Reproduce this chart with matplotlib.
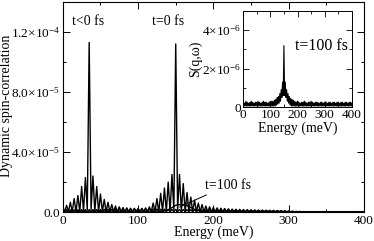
import numpy as np
import matplotlib
matplotlib.use("Agg")
import matplotlib.pyplot as plt
from matplotlib.ticker import FixedLocator, FixedFormatter, MultipleLocator

plt.rcParams['font.family'] = ['Liberation Serif', 'DejaVu Serif']
plt.rcParams['mathtext.fontset'] = 'custom'
plt.rcParams['mathtext.rm'] = 'Liberation Serif'
plt.rcParams['mathtext.it'] = 'Liberation Serif:italic'

SCALE = 1e-6  # values below are in units of 1e-6

# ---- t<0 fs curve: lobe tops at E = 0,5,...,400 ; troughs at 2.5,...,397.5
tops_tneg = [3.5, 4.5, 6.5, 9, 11, 17, 23, 113, 24, 17, 12, 8.5, 6.5, 5, 4, 3.5,
             3, 2.8, 2.6, 2.5, 2.4, 2.3, 2.2, 2.1, 2.0, 2.0, 1.9, 1.9, 1.8, 1.8,
             1.8, 1.7, 1.7, 1.7, 1.6, 1.6, 1.6, 1.5, 1.5, 1.5, 1.5, 1.4, 1.4, 1.4,
             1.4, 1.3, 1.3, 1.3, 1.3, 1.2, 1.2, 1.2, 1.2, 1.1, 1.1, 1.1, 1.0, 1.0,
             0.9, 0.8, 0.6, 0.5, 0.4, 0.4,
             0.3, 0.3, 0.3, 0.3, 0.3, 0.3, 0.3, 0.3, 0.3, 0.3, 0.3, 0.3, 0.3, 0.3,
             0.3, 0.3, 0.3]
troughs_tneg = [0.2, 0.2, 0.2, 0.2, 0.2, 0.3, 1.5, 1.5, 0.3, 0.2,
                0.2, 0.2, 0.2, 0.2, 0.2, 0.2, 0.2, 0.2, 0.2, 0.2,
                0.2, 0.2, 0.2, 0.2, 0.2, 0.2, 0.2, 0.2, 0.2, 0.2,
                0.2, 0.2, 0.2, 0.2, 0.2, 0.2, 0.2, 0.2, 0.2, 0.2,
                0.2, 0.2, 0.2, 0.2, 0.2, 0.2, 0.2, 0.2, 0.2, 0.2,
                0.2, 0.2, 0.2, 0.2, 0.2, 0.2, 0.2, 0.2, 0.2, 0.2,
                0.2, 0.2, 0.2, 0.2, 0.2, 0.2, 0.2, 0.2, 0.2, 0.2,
                0.2, 0.2, 0.2, 0.2, 0.2, 0.2, 0.2, 0.2, 0.2, 0.2]

# ---- t=0 fs curve: lobe tops at E = 0,5,...,400 ; troughs at 2.5,...,397.5
tops_t0 = [1.5, 1.5, 1.5, 1.5, 1.6, 1.6, 1.6, 1.6, 1.7, 1.7, 1.7, 1.8, 1.8, 1.8,
           1.9, 1.9, 2.0, 2.0, 2.1, 2.2, 2.3, 2.5, 2.8, 3.5, 6, 9, 12.5, 16, 20,
           25, 112, 25, 19, 13, 10, 8, 6, 5, 4, 3.5, 3, 2.8, 2.6, 2.4, 2.2, 2.0,
           1.9, 1.8, 1.7, 1.6, 1.5, 1.4, 1.3, 1.3, 1.2, 1.1, 1.1, 1.0, 0.9, 0.8,
           0.6, 0.5, 0.4, 0.35,
           0.3, 0.3, 0.3, 0.3, 0.3, 0.3, 0.3, 0.3, 0.3, 0.3, 0.3, 0.3, 0.3, 0.3,
           0.3, 0.3, 0.3]
troughs_t0 = [0.2, 0.2, 0.2, 0.2, 0.2, 0.2, 0.2, 0.2, 0.2, 0.2,
              0.2, 0.2, 0.2, 0.2, 0.2, 0.2, 0.2, 0.2, 0.2, 0.2,
              0.2, 0.2, 0.2, 0.2, 0.2, 0.2, 0.2, 0.2, 0.3, 1.5,
              1.5, 0.3, 0.2, 0.2, 0.2, 0.2, 0.2, 0.2, 0.2, 0.2,
              0.2, 0.2, 0.2, 0.2, 0.2, 0.2, 0.2, 0.2, 0.2, 0.2,
              0.2, 0.2, 0.2, 0.2, 0.2, 0.2, 0.2, 0.2, 0.2, 0.2,
              0.2, 0.2, 0.2, 0.2, 0.2, 0.2, 0.2, 0.2, 0.2, 0.2,
              0.2, 0.2, 0.2, 0.2, 0.2, 0.2, 0.2, 0.2, 0.2, 0.2]

# ---- t=100 fs curve in main panel, E = 0,5,...,400
t100_main = [0.4, 0.1, 0.4, 0.1, 0.4, 0.1, 0.4, 0.1, 0.4, 0.1, 0.4, 0.1, 0.4, 0.1,
             0.4, 0.1, 0.4, 0.1, 0.4, 0.1, 0.4, 0.1, 0.4, 0.1, 0.4, 0.1, 0.4,
             0.8, 1.5, 3, 4.5, 5, 5, 4.2, 3, 1.8, 1, 0.5,
             0.4, 0.1, 0.4, 0.1, 0.4, 0.1, 0.4, 0.1, 0.4, 0.1, 0.4, 0.1, 0.4, 0.1,
             0.4, 0.1, 0.4, 0.1, 0.4, 0.1, 0.4, 0.1, 0.3, 0.2, 0.2, 0.2, 0.2, 0.2,
             0.2, 0.2, 0.2, 0.2, 0.2, 0.2, 0.2, 0.2, 0.2, 0.2, 0.2, 0.2, 0.2, 0.2, 0.2]

# ---- inset t=100 fs: tops at E = 0,5,...,400 ; troughs at 2.5,...,397.5
tops_inset = [0.25, 0.2, 0.3, 0.25, 0.2, 0.25, 0.3, 0.25, 0.2, 0.25, 0.25, 0.3,
              0.25, 0.2, 0.25, 0.3, 0.25, 0.25, 0.2, 0.25, 0.3, 0.3, 0.3, 0.35,
              0.4, 0.5, 0.55, 0.7, 0.9, 1.3, 3.2, 1.3, 0.9, 0.7, 0.55, 0.45, 0.4,
              0.35, 0.3, 0.25, 0.3, 0.25, 0.2, 0.25, 0.25, 0.3, 0.25, 0.2, 0.25,
              0.25, 0.3, 0.25, 0.2, 0.25, 0.25, 0.25, 0.2, 0.25, 0.25, 0.2, 0.25,
              0.25, 0.2, 0.25, 0.25, 0.2, 0.25, 0.25, 0.2, 0.25, 0.25, 0.2, 0.25,
              0.25, 0.2, 0.25, 0.25, 0.2, 0.25, 0.25, 0.2]
troughs_inset = [0.05, 0.05, 0.05, 0.05, 0.05, 0.05, 0.05, 0.05, 0.05, 0.05,
                 0.05, 0.05, 0.05, 0.05, 0.05, 0.05, 0.05, 0.05, 0.05, 0.05,
                 0.05, 0.05, 0.05, 0.05, 0.1, 0.15, 0.2, 0.3, 0.5, 0.6,
                 0.6, 0.5, 0.3, 0.2, 0.1, 0.05, 0.05, 0.05, 0.05, 0.05,
                 0.05, 0.05, 0.05, 0.05, 0.05, 0.05, 0.05, 0.05, 0.05, 0.05,
                 0.05, 0.05, 0.05, 0.05, 0.05, 0.05, 0.05, 0.05, 0.05, 0.05,
                 0.05, 0.05, 0.05, 0.05, 0.05, 0.05, 0.05, 0.05, 0.05, 0.05,
                 0.05, 0.05, 0.05, 0.05, 0.05, 0.05, 0.05, 0.05, 0.05, 0.05]

main_yticks = [0, 4e-5, 8e-5, 1.2e-4]
main_yticklabels = ['0.0', '4.0×10$^{-5}$', '8.0×10$^{-5}$', '1.2×10$^{-4}$']
inset_yticks = [0, 2e-6, 4e-6]
inset_yticklabels = ['0', '2×10$^{-6}$', '4×10$^{-6}$']
xticks = [0, 100, 200, 300, 400]


def interleave(e_tops, v_tops, e_tr, v_tr):
    e = np.concatenate([e_tops, e_tr])
    v = np.concatenate([v_tops, v_tr])
    order = np.argsort(e)
    return e[order], v[order] * SCALE


E_mult5 = np.arange(0, 400.1, 5.0)
E_half = np.arange(2.5, 400.0, 5.0)

x1, y1 = interleave(E_mult5, tops_tneg, E_half, troughs_tneg)
x2, y2 = interleave(E_mult5, tops_t0, E_half, troughs_t0)
x3, y3 = E_mult5, np.array(t100_main) * SCALE
xi, yi = interleave(E_mult5, tops_inset, E_half, troughs_inset)

fig = plt.figure(figsize=(3.74, 2.41), dpi=100)
ax = fig.add_axes([0.168, 0.120, 0.805, 0.872])
lw = 1.0
ax.plot(x1, y1, color='black', lw=lw)
ax.plot(x2, y2, color='black', lw=lw)
ax.plot(x3, y3, color='black', lw=lw)
ax.set_xlim(0, 400)
ax.set_ylim(0, 1.4e-4)
ax.xaxis.set_major_locator(FixedLocator(xticks))
ax.xaxis.set_minor_locator(MultipleLocator(50))
ax.yaxis.set_major_locator(FixedLocator(main_yticks))
ax.yaxis.set_major_formatter(FixedFormatter(main_yticklabels))
ax.yaxis.set_minor_locator(MultipleLocator(2e-5))
ax.tick_params(which='both', direction='in', top=True, right=True, labelsize=9.5, pad=2)
ax.tick_params(which='major', length=5, width=0.7)
ax.tick_params(which='minor', length=2.5, width=0.7)
for s in ax.spines.values():
    s.set_linewidth(0.8)
ax.set_xlabel('Energy (meV)', fontsize=10, labelpad=-1)
ax.set_ylabel('Dynamic spin-correlation', fontsize=10)
ax.yaxis.label.set_verticalalignment('center')
ax.yaxis.set_label_coords(-0.188, 0.505)

ax.text(12, 1.27e-4, 't<0 fs', fontsize=10, va='center', ha='left')
ax.text(118, 1.27e-4, 't=0 fs', fontsize=10, va='center', ha='left')
ax.annotate('t=100 fs', xy=(155, 3.3e-6), xytext=(189, 1.8e-5), fontsize=10,
            va='center', ha='left',
            arrowprops=dict(arrowstyle='-', color='black', lw=0.7,
                            shrinkA=1, shrinkB=0))

axi = fig.add_axes([0.650, 0.556, 0.291, 0.398])
axi.plot(xi, yi, color='black', lw=0.8)
axi.set_xlim(0, 400)
axi.set_ylim(0, 5e-6)
axi.xaxis.set_major_locator(FixedLocator(xticks))
axi.xaxis.set_minor_locator(MultipleLocator(50))
axi.yaxis.set_major_locator(FixedLocator(inset_yticks))
axi.yaxis.set_major_formatter(FixedFormatter(inset_yticklabels))
axi.yaxis.set_minor_locator(MultipleLocator(1e-6))
axi.tick_params(which='both', direction='in', top=True, right=True, labelsize=9.5, pad=1.5)
axi.tick_params(which='major', length=4, width=0.6)
axi.tick_params(which='minor', length=2, width=0.6)
for s in axi.spines.values():
    s.set_linewidth(0.7)
axi.set_xlabel('Energy (meV)', fontsize=10, labelpad=0)
axi.set_ylabel('S(q,ω)', fontsize=10, labelpad=0)
axi.text(191, 3.2e-6, 't=100 fs', fontsize=11.5, va='center', ha='left')

fig.savefig('out.png', dpi=100)
